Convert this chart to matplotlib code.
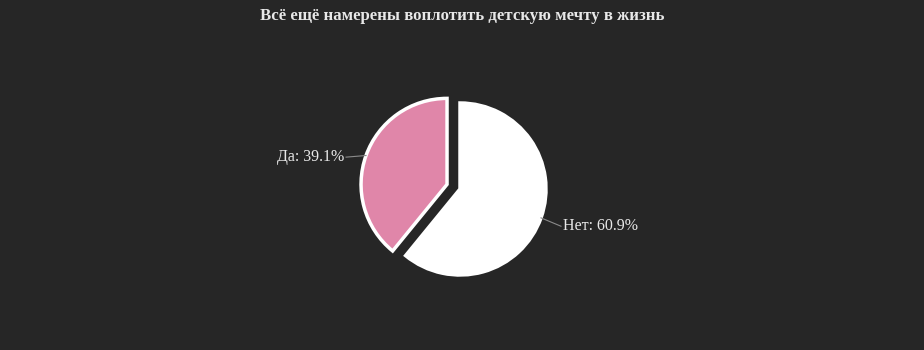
import numpy as np
import matplotlib
matplotlib.use("Agg")
import matplotlib.pyplot as plt

# Survey answers
categories = ["Нет", "Да"]
shares = [60.9, 39.1]
title = "Всё ещё намерены воплотить детскую мечту в жизнь"

bg = "#262626"
slice_colors = ["#ffffff", "#e086a9"]
explode = [0.0, 0.16]  # fraction of the radius

fig = plt.figure(figsize=(9.24, 3.5), dpi=100, facecolor=bg)
ax = fig.add_axes([0, 0, 1, 1])
ax.set_facecolor(bg)

radius = 86
center = (460, 161)
wedges, _ = ax.pie(shares, colors=slice_colors, startangle=90, counterclock=False,
                   explode=[e * radius for e in explode], center=center,
                   radius=radius, frame=True,
                   wedgeprops=dict(edgecolor="white", linewidth=2.5))
ax.set_xlim(0, 924)
ax.set_ylim(0, 350)
ax.set_aspect("equal")
ax.axis("off")

label_font = dict(family="Liberation Serif", size=11.5, color="#e8e8e8")
for w, name, val in zip(wedges, categories, shares):
    theta = np.deg2rad((w.theta1 + w.theta2) / 2)
    cx, cy = w.center
    ex, ey = cx + w.r * np.cos(theta), cy + w.r * np.sin(theta)
    side = 1 if np.cos(theta) >= 0 else -1
    tx, ty = ex + side * 22, ey + 10 * np.sin(theta) - 5
    ax.plot([ex, tx - side * 2], [ey, ty], color="#8a8a8a", lw=0.8)
    ax.text(tx, ty, f"{name}: {val}%", ha="left" if side > 0 else "right",
            va="center", **label_font)

fig.text(0.5, 1 - 16 / 350, title, ha="center", va="center",
         family="Liberation Serif", weight="bold", size=12.1, color="#e8e8e8")

fig.savefig("out.png", dpi=100, facecolor=bg)
